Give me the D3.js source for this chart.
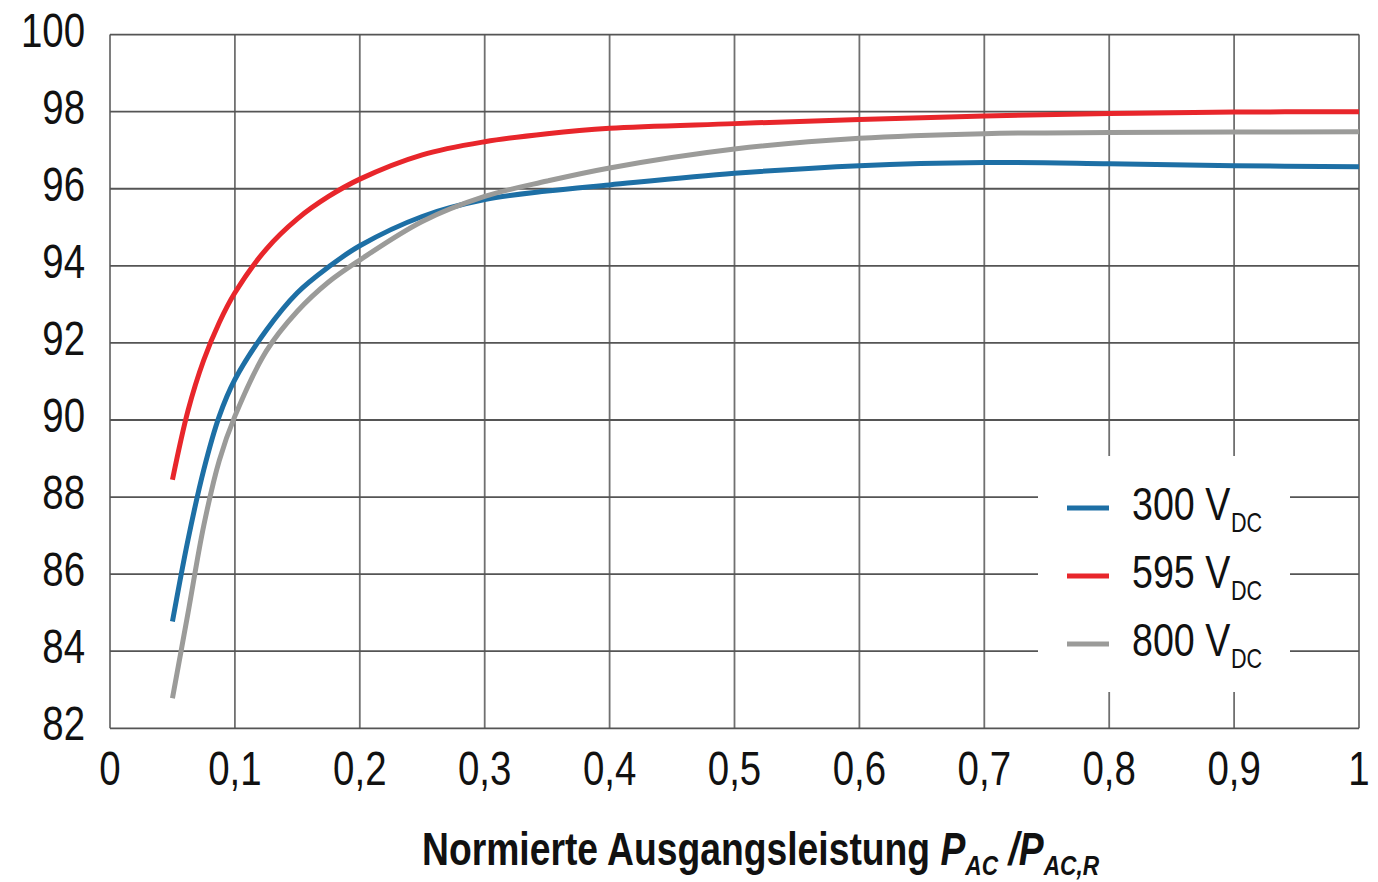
<!DOCTYPE html>
<html>
<head>
<meta charset="utf-8">
<script src="https://cdn.jsdelivr.net/npm/d3@7"></script>
<style>
  body { margin: 0; background: #fff; }
  svg { display: block; }
  text { font-family: "Liberation Sans", Arial, sans-serif; fill: #111; }
</style>
</head>
<body>
<svg width="1378" height="882"></svg>
<script>
const svg = d3.select('svg')

// normalised output power P_AC / P_AC,R
const load = [0.05, 0.0625, 0.075, 0.0875, 0.1, 0.125, 0.15, 0.175, 0.2, 0.25, 0.3, 0.35, 0.4, 0.5, 0.6, 0.7, 0.8, 0.9, 1.0]
// efficiency in % per DC input voltage
const eff300 = [84.77, 86.9, 88.7, 90.1, 91.05, 92.32, 93.3, 93.97, 94.52, 95.28, 95.72, 95.94, 96.1, 96.4, 96.6, 96.68, 96.65, 96.6, 96.57]
const eff595 = [88.45, 90.25, 91.55, 92.53, 93.3, 94.43, 95.22, 95.8, 96.25, 96.88, 97.22, 97.43, 97.57, 97.69, 97.8, 97.89, 97.95, 97.99, 98.0]
const eff800 = [82.78, 85.0, 87.25, 88.95, 90.1, 91.78, 92.82, 93.58, 94.15, 95.15, 95.8, 96.2, 96.54, 97.03, 97.31, 97.43, 97.46, 97.47, 97.48]

const seriesNames = ['300', '595', '800']
const seriesColors = ['#1d6fa5', '#e8262b', '#9b9b99']
const xTicks = [0, 0.1, 0.2, 0.3, 0.4, 0.5, 0.6, 0.7, 0.8, 0.9, 1]
const yTicks = [82, 84, 86, 88, 90, 92, 94, 96, 98, 100]

const series = [eff300, eff595, eff800].map((eff, i) => ({
	name: seriesNames[i],
	color: seriesColors[i],
	values: load.map((v, j) => [v, eff[j]])
}))

const x = d3.scaleLinear().domain([0, 1]).range([110, 1359])
const y = d3.scaleLinear().domain([82, 100]).range([728.3, 34.6])

const de = d3.formatLocale({ decimal: ',', thousands: '.', grouping: [3], currency: ['', '€'] })
const fmt = d => d === 0 || d === 1 ? String(d) : de.format('.1f')(d)

// the original uses a condensed face, so squeeze the text horizontally
const narrow = 0.8

/* grid */
const grid = svg.append('g').attr('class', 'grid')

grid.selectAll('line.v')
	.data(xTicks)
	.enter()
	.append('line')
	.attr('x1', d => x(d)).attr('x2', d => x(d))
	.attr('y1', y(100)).attr('y2', y(82))
	.attr('stroke', '#707070')
	.attr('stroke-width', 1.8)

grid.selectAll('line.h')
	.data(yTicks)
	.enter()
	.append('line')
	.attr('x1', x(0)).attr('x2', x(1))
	.attr('y1', d => y(d)).attr('y2', d => y(d))
	.attr('stroke', '#555')
	.attr('stroke-width', 1.8)

/* tick labels */
svg.append('g')
	.selectAll('text')
	.data(yTicks)
	.enter()
	.append('text')
	.attr('transform', d => `translate(85,${y(d) + 12}) scale(${narrow},1)`)
	.attr('text-anchor', 'end')
	.style('font-size', '48px')
	.text(d => d)

svg.append('g')
	.selectAll('text')
	.data(xTicks)
	.enter()
	.append('text')
	.attr('transform', d => `translate(${x(d)},785) scale(${narrow},1)`)
	.attr('text-anchor', 'middle')
	.style('font-size', '48px')
	.text(fmt)

/* legend backdrop hides the grid behind it */
svg.append('rect')
	.attr('x', 1038).attr('y', 456)
	.attr('width', 252).attr('height', 236)
	.attr('fill', '#fff')

/* curves */
const line = d3.line()
	.x(d => x(d[0]))
	.y(d => y(d[1]))
	.curve(d3.curveCatmullRom.alpha(0.5))

svg.append('g')
	.selectAll('path')
	.data(series)
	.enter()
	.append('path')
	.attr('d', d => line(d.values))
	.attr('fill', 'none')
	.attr('stroke', d => d.color)
	.attr('stroke-width', 5)

/* legend */
const legend = svg.append('g')
	.selectAll('g')
	.data(series)
	.enter()
	.append('g')
	.attr('transform', (d, i) => `translate(0,${508 + i * 68})`)

legend.append('line')
	.attr('x1', 1067).attr('x2', 1109)
	.attr('stroke', d => d.color)
	.attr('stroke-width', 5)

const lt = legend.append('text')
	.attr('transform', `translate(1132,12) scale(0.8,1)`)
	.style('font-size', '47px')

lt.append('tspan').text(d => `${d.name} V`)
lt.append('tspan')
	.attr('dy', 12)
	.attr('dx', 1)
	.style('font-size', '27px')
	.text('DC')

/* axis title */
const title = svg.append('text')
	.attr('transform', 'translate(422,865)')
	.style('font-size', '46px')
	.style('font-weight', 'bold')

title.append('tspan').text('Normierte Ausgangsleistung ')
title.append('tspan').style('font-style', 'italic').text('P')
title.append('tspan').style('font-style', 'italic').style('font-size', '28px').attr('dy', 10).text('AC')
title.append('tspan').style('font-style', 'italic').attr('dy', -10).text(' /P')
title.append('tspan').style('font-style', 'italic').style('font-size', '28px').attr('dy', 10).text('AC,R')

// fit the title to the width it takes in the original
const tw = title.node().getBBox().width
title.attr('transform', `translate(422,865) scale(${678 / tw},1)`)
</script>
</body>
</html>
